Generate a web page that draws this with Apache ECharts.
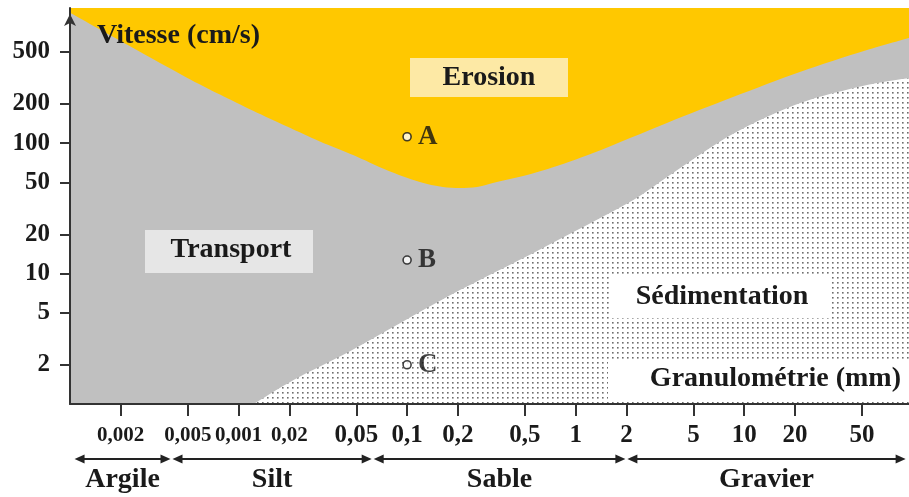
<!DOCTYPE html>
<html><head><meta charset="utf-8">
<script src="https://cdn.jsdelivr.net/npm/echarts@6/dist/echarts.min.js"></script>
<style>html,body{margin:0;padding:0;background:#fff}#c{width:909px;height:497px}</style>
</head><body><div id="c"></div>
<script>
// ---- data ----
const xTickValues = [0.002, 0.005, 0.01, 0.02, 0.05, 0.1, 0.2, 0.5, 1, 2, 5, 10, 20, 50];
const xTickLabels = ['0,002', '0,005', '0,001', '0,02', '0,05', '0,1', '0,2', '0,5', '1', '2', '5', '10', '20', '50'];
const yTickValues = [2, 5, 10, 20, 50, 100, 200, 500];
const yTickLabels = ['2', '5', '10', '20', '50', '100', '200', '500'];
// erosion threshold (yellow / grey boundary): [grain size mm, velocity cm/s]
const erosionCurve = [[0.001, 1000], [0.00237, 537], [0.00494, 318], [0.00776, 236], [0.0122, 177], [0.0194, 134], [0.0304, 103], [0.0478, 81], [0.076, 62], [0.119, 50.4], [0.163, 46.1], [0.206, 45.3], [0.26, 46.1], [0.323, 49.5], [0.515, 57], [0.807, 68], [1.27, 84], [3.48, 143], [8.58, 226], [21.4, 352], [53.5, 518], [95, 641]];
// sedimentation threshold (grey / dotted boundary)
const sedimentCurve = [[0.0123, 1], [0.0212, 1.53], [0.0461, 2.55], [0.181, 6.85], [0.618, 15.4], [2.2, 36.7], [3.49, 55], [8.6, 118], [21.5, 203], [53.5, 279], [95, 316]];
const pointNames = ['A', 'B', 'C'];
const pointValues = [[0.1, 112], [0.1, 12.7], [0.1, 2]];
const bandEdges = [0.00105, 0.004, 0.0625, 2, 92];
const bandNames = ['Argile', 'Silt', 'Sable', 'Gravier'];

const FONT = 'Liberation Serif';
const INK = '#1a1a1a';
function nearestLabel(v, vals, labs) {
  let best = 0, bd = Infinity;
  for (let i = 0; i < vals.length; i++) {
    const d = Math.abs(Math.log10(v) - Math.log10(vals[i]));
    if (d < bd) { bd = d; best = i; }
  }
  return { i: best, t: labs[best] };
}

// dotted pattern for sedimentation
const pc = document.createElement('canvas');
pc.width = 5; pc.height = 5;
const g = pc.getContext('2d');
g.fillStyle = '#ffffff'; g.fillRect(0, 0, 5, 5);
g.fillStyle = '#6e6e6e'; g.fillRect(2, 2, 1.6, 1.6);

const chart = echarts.init(document.getElementById('c'));
const option = {
  animation: false,
  backgroundColor: '#ffffff',
  grid: { left: 70, right: 0, top: 8, bottom: 93, show: true, backgroundColor: '#c0c0c0', borderWidth: 0 },
  xAxis: {
    type: 'log', logBase: 10, min: 0.001, max: 95, z: 5,
    axisLine: { show: true, lineStyle: { color: '#333', width: 2 } },
    axisTick: { show: true, customValues: xTickValues, length: 12, lineStyle: { color: '#333', width: 2 } },
    minorTick: { show: false },
    splitLine: { show: false },
    axisLabel: {
      customValues: xTickValues, margin: 32, verticalAlign: 'middle',
      formatter: function (v) { const r = nearestLabel(v, xTickValues, xTickLabels); return (r.i < 4 ? '{s|' : '{b|') + r.t + '}'; },
      rich: {
        s: { fontSize: 21, fontFamily: FONT, fontWeight: 'bold', color: INK },
        b: { fontSize: 25, fontFamily: FONT, fontWeight: 'bold', color: INK }
      }
    }
  },
  yAxis: {
    type: 'log', logBase: 10, min: 1, max: 1088, z: 5,
    name: 'Vitesse (cm/s)', nameLocation: 'end', nameGap: -28,
    nameTextStyle: { fontSize: 28, fontFamily: FONT, fontWeight: 'bold', color: INK, align: 'left', verticalAlign: 'middle', padding: [0, 0, 0, 27] },
    axisLine: { show: true, symbol: ['none', 'arrow'], symbolSize: [9, 12], symbolOffset: [0, -6], lineStyle: { color: '#333', width: 2 } },
    axisTick: { show: true, customValues: yTickValues, length: 10, lineStyle: { color: '#333', width: 2 } },
    minorTick: { show: false },
    splitLine: { show: false },
    axisLabel: {
      customValues: yTickValues, margin: 20,
      fontSize: 25, fontFamily: FONT, fontWeight: 'bold', color: INK,
      formatter: function (v) { return nearestLabel(v, yTickValues, yTickLabels).t; }
    }
  },
  series: [
    { name: 'Erosion', type: 'line', data: erosionCurve, smooth: 0.3, symbol: 'none', z: 1,
      lineStyle: { opacity: 0, width: 0 }, areaStyle: { color: '#ffc800', opacity: 1, origin: 'end' } },
    { name: 'Sédimentation', type: 'line', data: sedimentCurve, smooth: 0.3, symbol: 'none', z: 1,
      lineStyle: { opacity: 0, width: 0 }, areaStyle: { color: { image: pc, repeat: 'repeat' }, opacity: 1, origin: 'start' } },
    { name: 'Points', type: 'scatter', z: 4, symbol: 'circle', symbolSize: 8,
      data: pointValues.map((p, i) => ({ name: pointNames[i], value: p })),
      itemStyle: { color: '#ffffff', borderColor: '#111', borderWidth: 1.6 },
      label: { show: true, position: 'right', distance: 6, formatter: '{b}', fontSize: 27, fontFamily: FONT, fontWeight: 'bold', color: '#111' } }
  ]
};
chart.setOption(option);

// annotations
const tstyle = (txt, x, y, align) => ({ type: 'text', z: 20, x: x, y: y,
  style: { text: txt, fontSize: 28, fontFamily: FONT, fontWeight: 'bold', fill: INK, align: align || 'center', verticalAlign: 'middle' } });
const graphics = [
  { type: 'rect', z: 19, shape: { x: 410, y: 58, width: 158, height: 39 }, style: { fill: '#fde9a5' } },
  tstyle('Erosion', 489, 78),
  { type: 'rect', z: 19, shape: { x: 145, y: 230, width: 168, height: 43 }, style: { fill: '#e6e6e6' } },
  tstyle('Transport', 231, 250),
  { type: 'rect', z: 19, shape: { x: 612, y: 276, width: 218, height: 42 }, style: { fill: '#ffffff' } },
  tstyle('Sédimentation', 722, 297),
  { type: 'rect', z: 19, shape: { x: 608, y: 359, width: 301, height: 42 }, style: { fill: '#ffffff' } },
  tstyle('Granulométrie (mm)', 901, 379, 'right')
];
const AY = 459;
for (let i = 0; i < bandNames.length; i++) {
  const x1 = chart.convertToPixel({ xAxisIndex: 0 }, bandEdges[i]) + 1;
  const x2 = chart.convertToPixel({ xAxisIndex: 0 }, bandEdges[i + 1]) - 1;
  graphics.push({ type: 'line', z: 20, shape: { x1: x1 + 4, y1: AY, x2: x2 - 4, y2: AY }, style: { stroke: '#222', lineWidth: 2 } });
  graphics.push({ type: 'polygon', z: 20, shape: { points: [[x1, AY], [x1 + 10, AY - 4.5], [x1 + 10, AY + 4.5]] }, style: { fill: '#222' } });
  graphics.push({ type: 'polygon', z: 20, shape: { points: [[x2, AY], [x2 - 10, AY - 4.5], [x2 - 10, AY + 4.5]] }, style: { fill: '#222' } });
  graphics.push(tstyle(bandNames[i], (x1 + x2) / 2, 480));
}
chart.setOption({ graphic: graphics });
</script></body></html>
